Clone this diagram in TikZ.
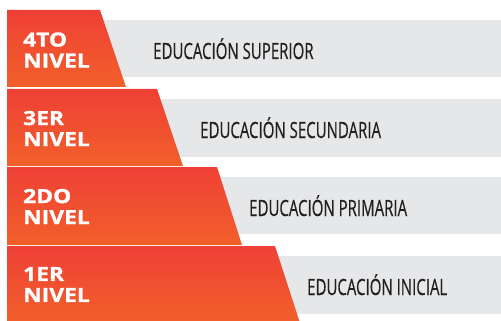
\documentclass[tikz,border=0pt]{standalone}
\usepackage{fontspec}
\newfontfamily\nivelfont[FakeStretch=1.17,BoldFeatures={FakeBold=1.2}]{Open Sans}
\newfontfamily\edufont[FakeStretch=0.67,FakeBold=0.4]{Open Sans}
\definecolor{nivtop}{HTML}{EE4036}
\definecolor{nivbot}{HTML}{F2602A}
\definecolor{bandgray}{HTML}{E6E7E8}
\definecolor{edutext}{HTML}{231F20}

\begin{document}
\begin{tikzpicture}[x=1pt,y=-1pt,
    nivel/.style={anchor=west,inner sep=0,align=left,text=white,
        font=\nivelfont\bfseries\fontsize{19.5}{21}\selectfont},
    edu/.style={anchor=base west,inner sep=0,text=edutext,
        font=\edufont\fontsize{22.4}{24}\selectfont},
    banda/.style={fill=bandgray},
    escalon/.style={top color=nivtop,bottom color=nivbot}]
                    % \helpgrid{3}{3}
                    \useasboundingbox (0,0) rectangle (501,321);

                    \fill [banda] (90,20) rectangle (501,77);
                    \fill [banda] (147,99) rectangle (501,157);
                    \fill [banda] (207,177) rectangle (501,234);
                    \fill [banda] (265,256) rectangle (501,314);

                    \shade [escalon] (7,10) -- (100,10) -- (126,87) -- (7,87) -- cycle;
                    \shade [escalon] (7,89) -- (157,89) -- (183,166) -- (7,166) -- cycle;
                    \shade [escalon] (7,167) -- (217,167) -- (242,245) -- (7,245) -- cycle;
                    \shade [escalon] (7,246) -- (275,246) -- (300,323) -- (7,323) -- cycle;

                    \node [nivel] (n4to) at (23,50) {4TO\\NIVEL};
                    \node [nivel] (n3er) at (23,128.5) {3ER\\NIVEL};
                    \node [nivel] (n2do) at (23,206.5) {2DO\\NIVEL};
                    \node [nivel] (n1er) at (23,284.5) {1ER\\NIVEL};

                    \node [edu] (e4to) at (153,59) {EDUCACIÓN SUPERIOR};
                    \node [edu] (e3er) at (200,138) {EDUCACIÓN SECUNDARIA};
                    \node [edu] (e2do) at (249,216) {EDUCACIÓN PRIMARIA};
                    \node [edu] (e1er) at (307,295) {EDUCACIÓN INICIAL};

                \end{tikzpicture}
\end{document}
